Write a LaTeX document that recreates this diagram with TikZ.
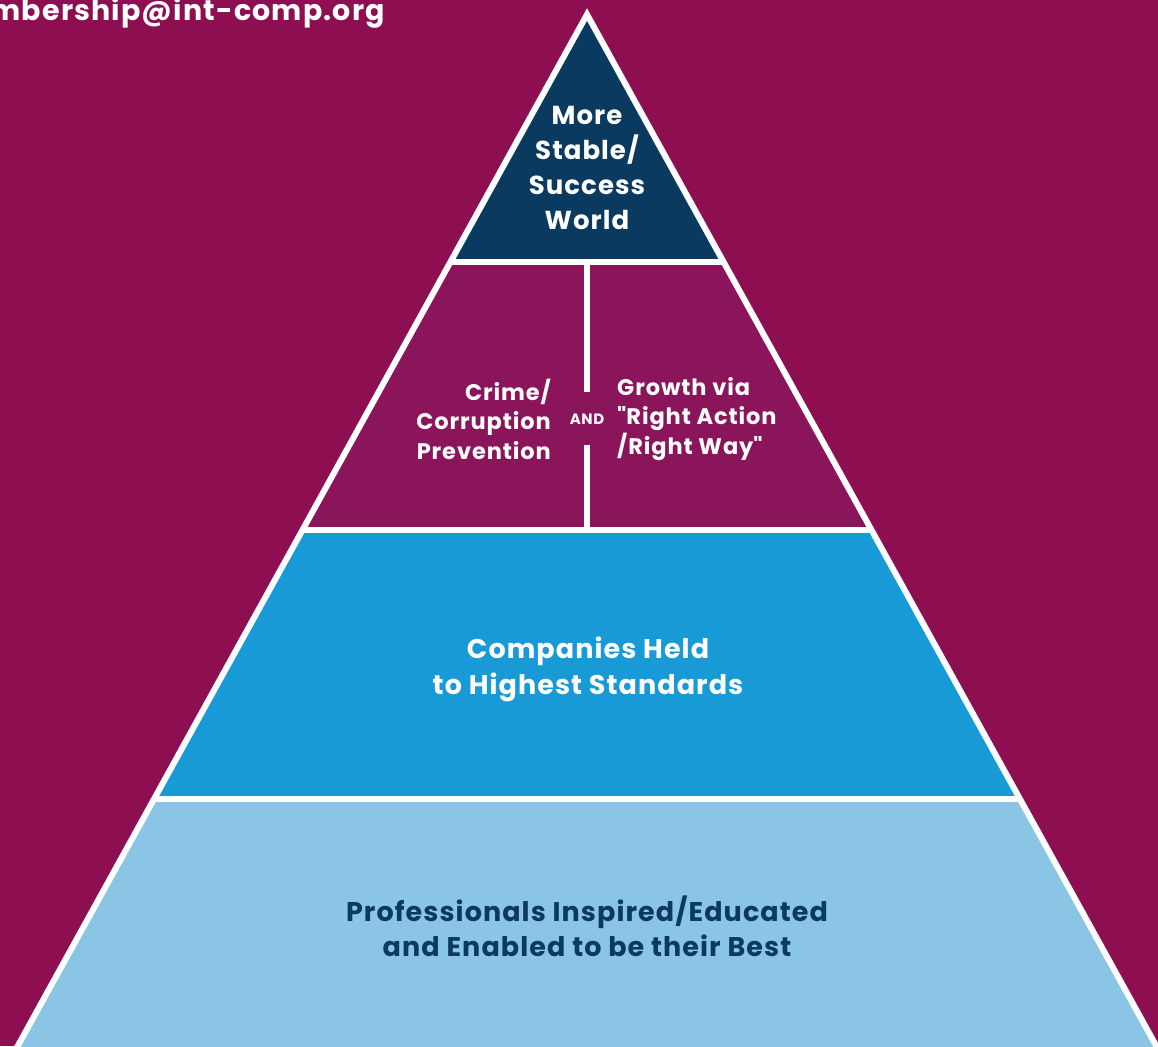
\documentclass[tikz,border=0pt]{standalone}
\usepackage{fontspec}
\setmainfont{Poppins}[LetterSpace=4]
\usetikzlibrary{calc}
\definecolor{fond}{RGB}{142,14,82}
\definecolor{crime}{RGB}{138,21,90}
\definecolor{sommet}{RGB}{10,58,96}
\definecolor{moyen}{RGB}{23,154,214}
\definecolor{clair}{RGB}{138,197,230}

\begin{document}
\begin{tikzpicture}[x=1pt,y=-1pt]
\tikzset{trait/.style={draw=white, line width=6pt, line join=miter},
  texte/.style={font=\bfseries\fontsize{26}{35}\selectfont, align=center, text=white, inner sep=0pt}}
\fill[fond] (0,0) rectangle (1158,1046);
\clip (0,0) rectangle (1158,1046);
\coordinate (S) at (587,14.5);
\coordinate (A4) at (10,1060);
\coordinate (B4) at (1164,1060);
\coordinate (A1) at ($(S)!0.2367!(A4)$);
\coordinate (B1) at ($(S)!0.2367!(B4)$);
\coordinate (A2) at ($(S)!0.4931!(A4)$);
\coordinate (B2) at ($(S)!0.4931!(B4)$);
\coordinate (A3) at ($(S)!0.7503!(A4)$);
\coordinate (B3) at ($(S)!0.7503!(B4)$);
\fill[sommet] (S) -- (A1) -- (B1) -- cycle;
\fill[crime] (A1) -- (A2) -- (B2) -- (B1) -- cycle;
\fill[moyen] (A2) -- (A3) -- (B3) -- (B2) -- cycle;
\fill[clair] (A3) -- (A4) -- (B4) -- (B3) -- cycle;
\draw[trait] (A4) -- (S) -- (B4);
\draw[trait] (A1) -- (B1);
\draw[trait] (A2) -- (B2);
\draw[trait] (A3) -- (B3);
\coordinate (D1) at (587,262);
\coordinate (D2) at (587,392);
\coordinate (D3) at (587,445);
\coordinate (D4) at (587,530);
\draw[trait] (D1) -- (D2);
\draw[trait] (D3) -- (D4);
\node[texte, font=\bfseries\fontsize{28.5}{35}\selectfont, anchor=east] (mail) at (385,13) {mbership@int-comp.org};
\node[texte] (monde) at (587,168) {More\\Stable/\\Success\\World};
\node[texte, font=\bfseries\fontsize{22.5}{29.5}\selectfont, align=right, anchor=east] (crime) at (551,419) {Crime/\\Corruption\\Prevention};
\node[texte, font=\bfseries\fontsize{15}{15}\selectfont] (et) at (587,419) {AND};
\node[texte, font=\bfseries\fontsize{22.5}{29.5}\selectfont, align=left, anchor=west] (croissance) at (617,419) {Growth via\\\textquotedbl Right Action\\/Right Way\textquotedbl};
\node[texte, font=\bfseries\fontsize{27}{36}\selectfont] (entreprises) at (588,669) {Companies Held\\to Highest Standards};
\node[texte, font=\bfseries\fontsize{27}{35}\selectfont, text=sommet] (pros) at (587,926) {Professionals Inspired/Educated\\and Enabled to be their Best};
\end{tikzpicture}
\end{document}
